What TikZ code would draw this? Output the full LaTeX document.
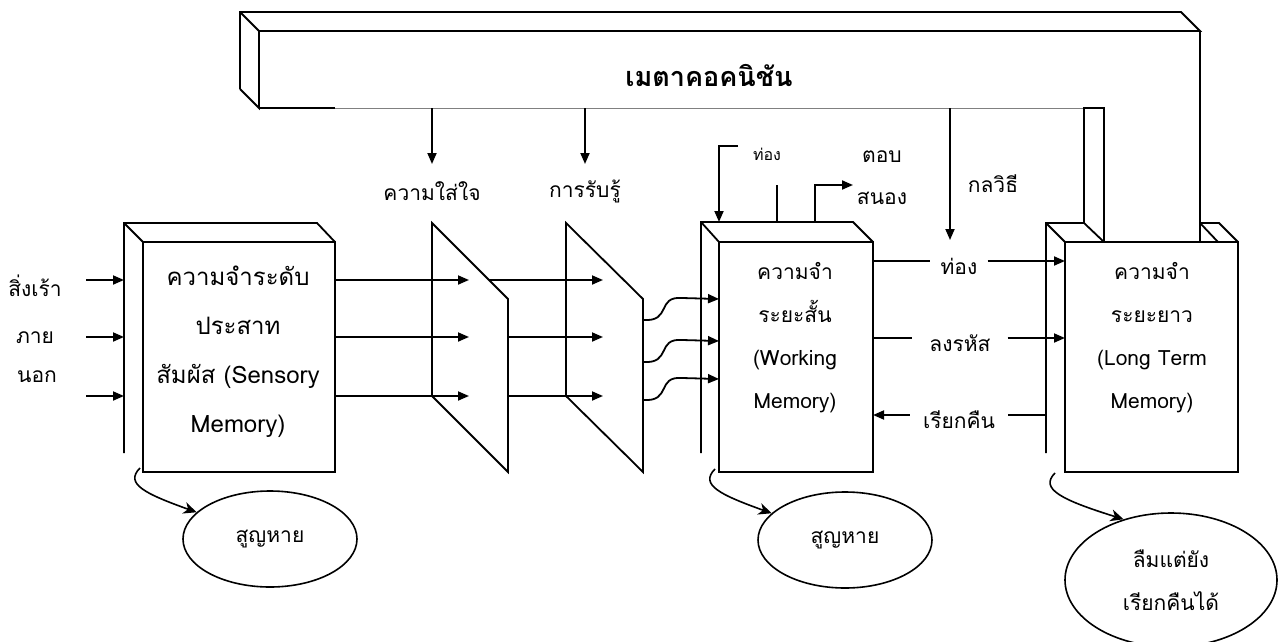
\documentclass[tikz,border=0pt]{standalone}
\usepackage{fontspec}
\setmainfont[Script=Thai]{Loma}
\usepackage{tikz}
\usetikzlibrary{positioning,calc}
\usetikzlibrary{arrows.meta,shapes.geometric}
\tikzset{
  wall/.style={draw=black,line width=1.8pt,line join=miter},
  rim/.style={draw=black!50,line width=1pt},
  flow/.style={draw=black,line width=1.8pt,-{Triangle[length=11pt,width=9pt]}},
  drop/.style={draw=black,line width=1.6pt,-{Stealth[length=13pt,width=12pt,inset=4pt]}},
  word/.style={inner sep=1pt,font=\fontsize{21}{26}\selectfont},
  note/.style={inner sep=1pt,font=\fontsize{16}{20}\selectfont},
  mem/.style={align=center,inner sep=0pt,font=\fontsize{21}{43}\selectfont},
  lost/.style={ellipse,draw=black,line width=1.6pt,align=center,inner sep=0pt,
    font=\fontsize{21}{43}\selectfont},
}

\begin{document}
\begin{tikzpicture}[x=1pt,y=-1pt]
\useasboundingbox (0,0) rectangle (1285,642);
% metacognition bar
\coordinate (ma) at (240,12);
\coordinate (mb) at (1181,12);
\coordinate (mc) at (1200,31);
\coordinate (md) at (259,31);
\coordinate (me) at (259,108);
\coordinate (mf) at (240,89);
\coordinate (mg) at (335,108);
\coordinate (mh) at (1084,108);
\coordinate (mi) at (1104,108);
\coordinate (mj) at (1200,242);
\draw[wall] (mf)--(ma)--(mb)--(mc)--(md)--(ma);
\draw[wall] (md)--(me)--(mf);
\draw[wall] (me)--(mg);
\draw[rim] (mg)--(mh);
\draw[wall] (mc)--(mj);
\node[font=\bfseries\fontsize{27}{30}\selectfont] (meta) at (709,75) {เมตาคอคนิชัน};
% sensory memory
\coordinate (sa) at (124,223);
\coordinate (sb) at (317,223);
\coordinate (sc) at (143,242);
\coordinate (sd) at (335,242);
\coordinate (se) at (124,453);
\coordinate (sg) at (335,472);
\draw[wall] (se)--(sa)--(sb)--(sd);
\draw[wall] (sa)--(sc);
\draw[wall] (sc) rectangle (sg);
\node[mem,font=\fontsize{24}{49}\selectfont] (sens) at (238,352)
  {ความจำระดับ\\ประสาท\\สัมผัส (Sensory\\Memory)};
% filters
\coordinate (fa) at (432,223);
\coordinate (fb) at (508,299);
\coordinate (fc) at (508,472);
\coordinate (fd) at (432,396);
\draw[wall] (fa)--(fb)--(fc)--(fd)--cycle;
\coordinate (ga) at (566,223);
\coordinate (gb) at (643,299);
\coordinate (gc) at (643,472);
\coordinate (gd) at (566,396);
\draw[wall] (ga)--(gb)--(gc)--(gd)--cycle;
% working memory
\coordinate (wa) at (701,222);
\coordinate (wb) at (853,222);
\coordinate (wc) at (719,242);
\coordinate (wd) at (873,242);
\coordinate (we) at (701,453);
\coordinate (wg) at (873,472);
\draw[wall] (we)--(wa)--(wb)--(wd);
\draw[wall] (wa)--(wc);
\draw[wall] (wc) rectangle (wg);
\node[mem] (work) at (795,338) {ความจำ\\ระยะสั้น\\(Working\\Memory)};
% long term memory
\coordinate (la) at (1046,223);
\coordinate (lb) at (1084,223);
\coordinate (lc) at (1065,242);
\coordinate (lh) at (1104,242);
\coordinate (li) at (1200,223);
\coordinate (lj) at (1219,223);
\coordinate (lk) at (1218,242);
\coordinate (ld) at (1238,242);
\coordinate (le) at (1046,453);
\coordinate (lg) at (1238,472);
\draw[wall] (le)--(la)--(lb)--(lh);
\draw[wall] (la)--(lc);
\draw[wall] (li)--(lj)--(ld);
\draw[wall] (li)--(lk);
\draw[wall] (lb)--(mh)--(mi)--(lh);
\draw[wall] (lc) rectangle (lg);
\node[mem] (long) at (1152,338) {ความจำ\\ระยะยาว\\(Long Term\\Memory)};
% stimuli
\coordinate (s1) at (86,280);
\coordinate (s2) at (86,337);
\coordinate (s3) at (86,396);
\node[word] (sti1) at (35,286) {สิ่งเร้า};
\node[word] (sti2) at (35,338) {ภาย};
\node[word] (sti3) at (37,377) {นอก};
\draw[flow] (s1)--(s1 -| sa);
\draw[flow] (s2)--(s2 -| sa);
\draw[flow] (s3)--(s3 -| sa);
% sensory -> attention -> perception
\coordinate (ka) at (469,0);
\coordinate (kb) at (603,0);
\coordinate (q1) at (489,280);
\draw[flow] (s1 -| sd)--(s1 -| ka);
\draw[flow] (s2 -| sd)--(s2 -| ka);
\draw[flow] (s3 -| sd)--(s3 -| ka);
\draw[flow] (q1)--(s1 -| kb);
\draw[flow] (s2 -| fb)--(s2 -| kb);
\draw[flow] (s3 -| fb)--(s3 -| kb);
% perception -> working memory
\coordinate (v1) at (643,320);
\coordinate (v2) at (643,362);
\coordinate (v3) at (643,400);
\coordinate (r1) at (719,299);
\coordinate (r2) at (719,341);
\coordinate (r3) at (719,379);
\draw[flow] (v1) .. controls (672,322) and (656,296) .. (682,298) -- (r1);
\draw[flow] (v2) .. controls (672,364) and (656,338) .. (682,340) -- (r2);
\draw[flow] (v3) .. controls (672,402) and (656,376) .. (682,378) -- (r3);
% metacognition control
\coordinate (ca) at (432,108);
\coordinate (cb) at (432,164);
\coordinate (cc) at (585,108);
\coordinate (cd) at (585,164);
\coordinate (ce) at (950,108);
\coordinate (cf) at (950,240);
\draw[flow] (ca)--(cb);
\draw[flow] (cc)--(cd);
\draw[flow] (ce)--(cf);
\node[word] (att) at (432,191) {ความใส่ใจ};
\node[word] (per) at (585,191) {การรับรู้};
\node[word] (tac) at (993,184) {กลวิธี};
% rehearsal and response
\coordinate (ha) at (738,146);
\coordinate (hb) at (719,146);
\coordinate (hc) at (777,185);
\coordinate (hd) at (815,185);
\coordinate (he) at (853,185);
\draw[flow] (ha)--(hb)--(hb |- wa);
\draw[wall] (hc)--(hc |- wa);
\draw[flow] (hd |- wa)--(hd)--(he);
\node[note] (reh) at (767,154) {ท่อง};
\node[word] (res1) at (882,157) {ตอบ};
\node[word] (res2) at (882,198) {สนอง};
% working <-> long term
\coordinate (t1) at (873,261);
\coordinate (t2) at (873,338);
\coordinate (t3) at (873,415);
\node[word,inner xsep=10pt] (rote) at (959,266) {ท่อง};
\node[word,inner xsep=17pt] (code) at (960,343) {ลงรหัส};
\node[word,inner xsep=13pt] (back) at (959,420) {เรียกคืน};
\draw[wall] (t1)--(t1 -| rote.west);
\draw[flow] (t1 -| rote.east)--(t1 -| lc);
\draw[wall] (t2)--(t2 -| code.west);
\draw[flow] (t2 -| code.east)--(t2 -| lc);
\draw[wall] (t3 -| la)--(t3 -| back.east);
\draw[flow] (t3 -| back.west)--(t3);
% forgetting
\node[lost,minimum width=174pt,minimum height=96pt] (e1) at (270,539) {สูญหาย};
\node[lost,minimum width=174pt,minimum height=96pt] (e2) at (845,540) {สูญหาย};
\node[lost,minimum width=212pt,minimum height=134pt] (e3) at (1171,580) {ลืมแต่ยัง\\เรียกคืนได้};
\coordinate (da) at (140,468);
\coordinate (db) at (715,469);
\coordinate (dc) at (1055,473);
\draw[drop] (da) .. controls (124,484) and (146,494) .. (e1.160);
\draw[drop] (db) .. controls (699,485) and (721,495) .. (e2.160);
\draw[drop] (dc) .. controls (1039,489) and (1062,500) .. (e3.128);
\end{tikzpicture}
\end{document}
